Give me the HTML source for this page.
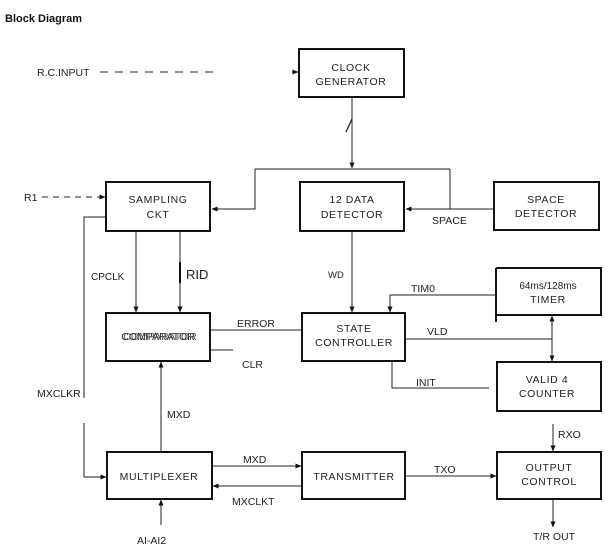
<!DOCTYPE html>
<html><head><meta charset="utf-8"><style>
html,body{margin:0;padding:0;background:#fff;}
svg{display:block;font-family:"Liberation Sans",sans-serif;}
text{fill:#222;font-size:10.5px;}
.b text{letter-spacing:0.6px;}
</style></head><body>
<svg width="611" height="558" viewBox="0 0 611 558" xmlns="http://www.w3.org/2000/svg">
<defs>
<marker id="a" markerWidth="6" markerHeight="6" refX="5.5" refY="3" orient="auto" markerUnits="userSpaceOnUse">
<path d="M0,0.5 L6,3 L0,5.5 z" fill="#111"/></marker>
</defs>
<text x="5" y="22" style="font-size:11px;font-weight:bold;fill:#111">Block Diagram</text>

<g fill="none" stroke="#111" stroke-width="2">
<rect x="299" y="49" width="105" height="48"/>
<rect x="106" y="182" width="104" height="49"/>
<rect x="300" y="182" width="104" height="49"/>
<rect x="494" y="182" width="105" height="48"/>
<path d="M496,268 H601 V315 H496 M496,268 V322"/>
<rect x="106" y="313" width="104" height="48"/>
<rect x="302" y="313" width="103" height="48"/>
<rect x="497" y="362" width="104" height="49"/>
<rect x="107" y="452" width="105" height="47"/>
<rect x="302" y="452" width="103" height="47"/>
<rect x="497" y="452" width="104" height="47"/>
</g>

<g fill="none" stroke="#222" stroke-width="1">
<path d="M100,72 H213" stroke-dasharray="8,7"/>
<path d="M292,72 H298" marker-end="url(#a)"/>
<path d="M352,97 V168" marker-end="url(#a)"/>
<path d="M255,169 H450 M255,169 V209 H212" marker-end="url(#a)"/>
<path d="M450,169 V209"/>
<path d="M494,209 H406" marker-end="url(#a)"/>
<path d="M42,197 H105" stroke-dasharray="6,5" marker-end="url(#a)"/>
<path d="M106,217 H84 V398 M84,423 V477 H106" marker-end="url(#a)"/>
<path d="M136,231 V312" marker-end="url(#a)"/>
<path d="M180,231 V312" marker-end="url(#a)"/>
<path d="M352,231 V312" marker-end="url(#a)"/>
<path d="M210,330 H302"/>
<path d="M210,350 H233"/>
<path d="M496,295 H390 V312" marker-end="url(#a)"/>
<path d="M405,339 H552"/>
<path d="M552,339 V361" marker-end="url(#a)"/>
<path d="M552,339 V316" marker-end="url(#a)"/>
<path d="M392,361 V388 H489"/>
<path d="M161,452 V362" marker-end="url(#a)"/>
<path d="M212,466 H301" marker-end="url(#a)"/>
<path d="M302,486 H213" marker-end="url(#a)"/>
<path d="M405,476 H496" marker-end="url(#a)"/>
<path d="M553,424 V451" marker-end="url(#a)"/>
<path d="M553,499 V527" marker-end="url(#a)"/>
<path d="M161,525 V500" marker-end="url(#a)"/>
<path d="M346,132 L352,119" stroke-width="1.3"/>
</g>
<path d="M180,262 V283" stroke="#111" stroke-width="2"/>

<g text-anchor="middle" class="b">
<text x="351" y="71">CLOCK</text><text x="351" y="85">GENERATOR</text>
<text x="158" y="203">SAMPLING</text><text x="158" y="218">CKT</text>
<text x="352" y="203">12 DATA</text><text x="352" y="218">DETECTOR</text>
<text x="546" y="203">SPACE</text><text x="546" y="217">DETECTOR</text>
<text x="548" y="289" style="font-size:10px;letter-spacing:0">64ms/128ms</text><text x="548" y="303">TIMER</text>
<text x="158" y="340" style="letter-spacing:0">COMPARATOR</text><text x="160" y="340" style="fill:#555;letter-spacing:0">COMPARATOR</text>
<text x="354" y="332">STATE</text><text x="354" y="346">CONTROLLER</text>
<text x="547" y="383">VALID  4</text><text x="547" y="397">COUNTER</text>
<text x="159" y="480">MULTIPLEXER</text>
<text x="354" y="480">TRANSMITTER</text>
<text x="549" y="471">OUTPUT</text><text x="549" y="485">CONTROL</text>
</g>

<text x="37" y="76">R.C.INPUT</text>
<text x="24" y="201">R1</text>
<text x="432" y="224">SPACE</text>
<text x="91" y="280" style="font-size:10px">CPCLK</text>
<text x="186" y="279" style="font-size:13px">RID</text>
<text x="328" y="278" style="font-size:9.5px">WD</text>
<text x="411" y="292">TIM0</text>
<text x="237" y="327">ERROR</text>
<text x="427" y="335">VLD</text>
<text x="242" y="368">CLR</text>
<text x="416" y="386">INIT</text>
<text x="37" y="397">MXCLKR</text>
<text x="167" y="418">MXD</text>
<text x="558" y="438">RXO</text>
<text x="243" y="463">MXD</text>
<text x="434" y="473">TXO</text>
<text x="232" y="505">MXCLKT</text>
<text x="533" y="540">T/R OUT</text>
<text x="137" y="544">AI-AI2</text>
</svg>
</body></html>
